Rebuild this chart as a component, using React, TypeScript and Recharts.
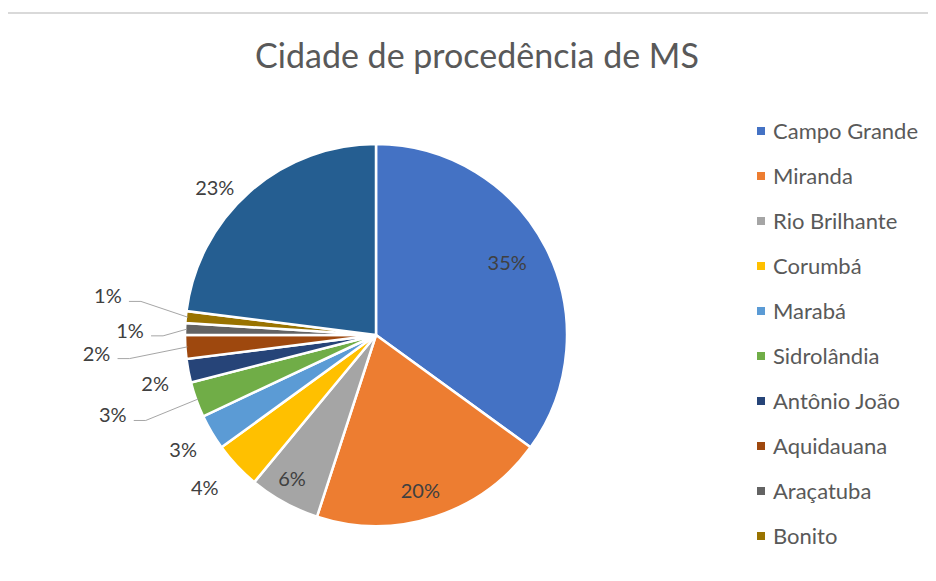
import React from 'react';
import { PieChart, Pie, Cell, Legend } from 'recharts';

const cities = [
  'Campo Grande',
  'Miranda',
  'Rio Brilhante',
  'Corumbá',
  'Marabá',
  'Sidrolândia',
  'Antônio João',
  'Aquidauana',
  'Araçatuba',
  'Bonito',
  'Outras',
];
const shares = [35, 20, 6, 4, 3, 3, 2, 2, 1, 1, 23];
const colors = [
  '#4472C4',
  '#ED7D31',
  '#A5A5A5',
  '#FFC000',
  '#5B9BD5',
  '#70AD47',
  '#264478',
  '#9E480E',
  '#636363',
  '#997300',
  '#255E91',
];
// only the first 10 fit in the legend box
const legendCount = 10;

// label placement ("best fit" look): offset from outer edge, angle nudge, leader line
const labelOffset = [-41, -30, -25, 38, 33, 84, 35, 89, 55, 80, 28];
const labelNudge = [2, -2, -1.6, -1.6, 0, -3, 1.5, 0, 0.6, -3, 6];
const hasLeader = [false, false, false, false, false, true, false, true, true, true, false];

const data = cities.map((name, i) => ({ name, value: shares[i] }));

const FONT = 'Lato, "Open Sans", sans-serif';
const RAD = Math.PI / 180;

const renderLabel = (props: any) => {
  const { cx, cy, midAngle, outerRadius, percent, index } = props;
  const a = (midAngle + labelNudge[index]) * RAD;
  const r = outerRadius + labelOffset[index];
  const lx = cx + r * Math.cos(a);
  const ly = cy - r * Math.sin(a);
  const ex = cx + (outerRadius - 2) * Math.cos(midAngle * RAD);
  const ey = cy - (outerRadius - 2) * Math.sin(midAngle * RAD);
  return (
    <g key={`lbl-${index}`}>
      {hasLeader[index] && (
        <polyline
          points={`${lx + 21},${ly + 6} ${lx + 33},${ly + 6} ${ex},${ey}`}
          fill="none"
          stroke="#A6A6A6"
          strokeWidth={1}
        />
      )}
      <text
        x={lx}
        y={ly}
        textAnchor="middle"
        dominantBaseline="central"
        fill="#404040"
        fontSize={20}
        fontFamily={FONT}
      >
        {`${Math.round(percent * 100)}%`}
      </text>
    </g>
  );
};

const renderLegend = () => (
  <ul style={{ listStyle: 'none', margin: 0, padding: 0 }}>
    {cities.slice(0, legendCount).map((c, i) => (
      <li
        key={c}
        style={{
          display: 'flex',
          alignItems: 'center',
          height: 45,
          fontSize: 22,
          color: '#595959',
          fontFamily: FONT,
          whiteSpace: 'nowrap',
        }}
      >
        <span style={{ width: 8, height: 8, background: colors[i], marginRight: 8, flexShrink: 0 }} />
        {c}
      </li>
    ))}
  </ul>
);

export default function App() {
  return (
    <div style={{ position: 'relative', width: 936, height: 581, margin: -8, background: '#fff', overflow: 'hidden' }}>
      {/* chart area border (cropped on the right and bottom) */}
      <div
        style={{
          position: 'absolute',
          left: 5,
          top: 12,
          width: 960,
          height: 600,
          borderTop: '2px solid #D9D9D9',
          borderLeft: '2px solid #D9D9D9',
        }}
      />
      <div
        style={{
          position: 'absolute',
          left: 77,
          top: 35,
          width: 800,
          textAlign: 'center',
          fontFamily: FONT,
          fontSize: 34,
          lineHeight: '40px',
          color: '#595959',
        }}
      >
        Cidade de procedência de MS
      </div>
      <div style={{ position: 'absolute', left: 0, top: 0 }}>
        <PieChart width={936} height={581} margin={{ top: 0, right: 0, bottom: 0, left: 0 }}>
          <Pie
            data={data}
            dataKey="value"
            nameKey="name"
            cx={376}
            cy={335}
            outerRadius={191}
            startAngle={90}
            endAngle={-270}
            stroke="#fff"
            strokeWidth={2.5}
            label={renderLabel}
            labelLine={false}
            isAnimationActive={false}
          >
            {data.map((d, i) => (
              <Cell key={d.name} fill={colors[i]} />
            ))}
          </Pie>
          <Legend
            layout="vertical"
            align="right"
            verticalAlign="top"
            content={renderLegend}
            wrapperStyle={{ left: 757, top: 108, width: 179 }}
          />
        </PieChart>
      </div>
    </div>
  );
}
